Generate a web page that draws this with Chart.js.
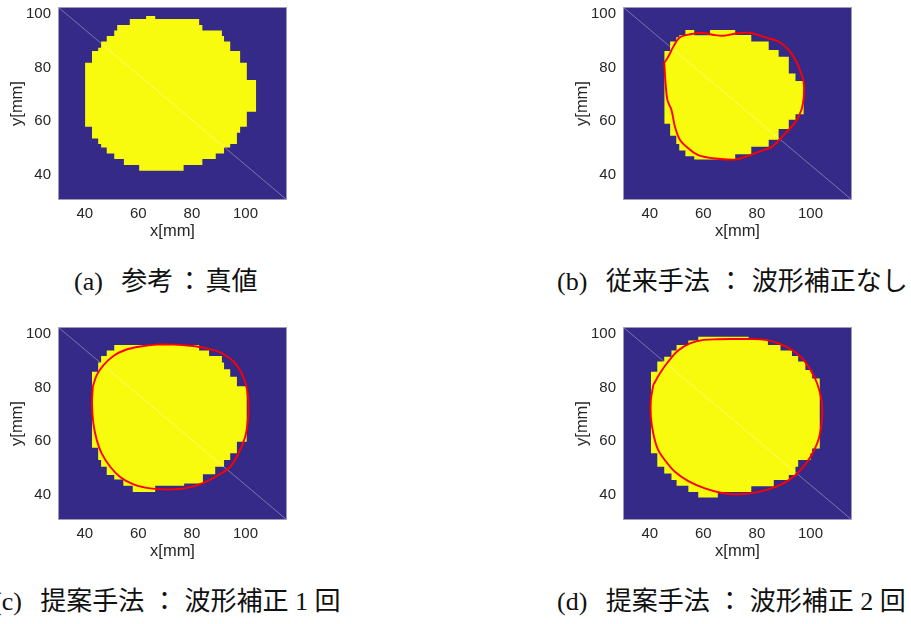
<!DOCTYPE html>
<html>
<head>
<meta charset="utf-8">
<script src="https://cdn.jsdelivr.net/npm/chart.js@4.4.0/dist/chart.umd.min.js"></script>
<style>
  body { margin: 0; background: #fff; width: 911px; height: 624px; position: relative; overflow: hidden; }
  .panel { position: absolute; }
  .cap { position: absolute; font-family: "Liberation Serif", "Noto Sans CJK JP", serif; font-size: 26px; line-height: 30px; color: #111; white-space: nowrap; }
  .tag { margin-right: 12px; }
</style>
</head>
<body>
<canvas id="chartA" class="panel" width="300" height="250" style="left:0px;top:0px"></canvas>
<canvas id="chartB" class="panel" width="300" height="250" style="left:565px;top:0px"></canvas>
<canvas id="chartC" class="panel" width="300" height="250" style="left:0px;top:320px"></canvas>
<canvas id="chartD" class="panel" width="300" height="250" style="left:565px;top:320px"></canvas>

<div class="cap" style="left:74px;top:267px"><span class="tag">(a)</span> 参考<span style="margin:0 3px">：</span>真値</div>
<div class="cap" style="left:557px;top:267px"><span class="tag">(b)</span> 従来手法<span style="margin:0 8px">：</span>波形補正なし</div>
<div class="cap" style="left:-7px;top:587px"><span class="tag">(c)</span> 提案手法<span style="margin:0 7px">：</span>波形補正 1 回</div>
<div class="cap" style="left:557px;top:587px"><span class="tag">(d)</span> 提案手法<span style="margin:0 7px">：</span>波形補正 2 回</div>

<script>
  // axis limits / ticks in mm
  let xLimits = [30, 115.5];
  let yLimits = [30.5, 102.6];
  let xTicks = [40, 60, 80, 100];
  let yTicks = [40, 60, 80, 100];

  // yellow region = columns: edges (x) + lower/upper y of each column
  // (a) true values
  let aEdges = [40.1, 42.7, 45.0, 46.1, 48.2, 51.0, 52.1, 54.6, 56.8, 60.3, 62.9, 66.3, 76.9, 82.7, 83.9, 88.9, 91.2, 92.0, 94.3, 96.8, 98.0, 100.5, 103.0, 104.0];
  let aBottom = [62.5, 57.9, 53.5, 51.4, 50.1, 47.9, 45.8, 45.8, 43.6, 43.6, 41.4, 41.4, 41.4, 43.6, 43.6, 45.8, 47.9, 47.9, 50.1, 51.4, 55.6, 57.9, 63.5];
  let aTop = [77.6, 81.8, 86.2, 87.4, 89.7, 91.8, 93.8, 95.9, 95.9, 98.1, 98.1, 99.25, 98.1, 98.1, 95.9, 93.8, 93.8, 91.8, 89.7, 86.2, 86.2, 81.8, 75.3];

  // (b) conventional, no waveform correction
  let bEdges = [45.4, 47.6, 49.9, 51.0, 53.3, 56.6, 62.5, 71.9, 77.9, 84.4, 88.1, 91.9, 94.4, 96.6, 97.5];
  let bBottom = [65.5, 59.0, 54.5, 51.4, 49.0, 46.8, 45.6, 45.6, 47.6, 50.4, 53.0, 57.0, 60.5, 62.5];
  let bTop = [81.8, 86.2, 89.7, 91.3, 92.0, 94.0, 92.0, 94.0, 92.1, 89.7, 86.5, 84.0, 77.8, 75.0];
  let bContourX = [45.4, 45.9, 46.6, 48.1, 49.4, 51.3, 54.4, 58.1, 64.4, 71.9, 75.6, 80.6, 85.6, 90.6, 94.4, 96.6, 97.5, 97.5, 96.3, 94.4, 91.9, 88.1, 84.4, 80.6, 76.9, 72.5, 68.1, 64.4, 59.4, 55.6, 51.3, 48.8, 46.9];
  let bContourY = [81.8, 74.1, 67.8, 64.1, 57.9, 52.9, 49.8, 47.3, 46.0, 45.6, 46.6, 48.5, 50.4, 55.4, 59.7, 64.1, 69.1, 74.1, 78.4, 82.8, 86.5, 89.7, 90.9, 92.1, 93.0, 92.8, 91.9, 92.1, 93.0, 92.5, 91.3, 87.8, 84.0];

  // (c) proposed, 1 correction
  let cEdges = [42.7, 45.0, 46.1, 48.2, 51.0, 54.4, 57.9, 66.3, 77.1, 82.7, 84.1, 86.4, 88.7, 91.2, 92.0, 94.3, 96.8, 98.0, 100.5];
  let cBottom = [63.1, 57.5, 52.9, 50.4, 47.3, 45.6, 43.3, 41.0, 43.3, 44.1, 44.1, 47.6, 47.6, 50.4, 50.4, 52.9, 55.4, 59.7];
  let cTop = [81.5, 85.9, 89.3, 91.8, 93.8, 95.9, 95.9, 95.9, 95.9, 95.9, 93.8, 93.8, 91.8, 91.8, 89.3, 86.8, 84.0, 80.5];
  let cContourX = [43.0, 42.7, 43.2, 44.5, 46.3, 49.5, 53.2, 58.2, 64.4, 71.2, 78.1, 84.3, 89.9, 94.3, 97.4, 99.9, 100.9, 101.1, 100.5, 98.6, 95.5, 91.2, 85.6, 79.3, 73.1, 66.9, 60.7, 55.1, 50.7, 47.0, 44.5];
  let cContourY = [80.3, 74.1, 66.6, 60.3, 55.4, 50.4, 46.6, 43.8, 42.3, 41.9, 42.5, 44.4, 47.3, 50.4, 55.4, 61.6, 67.8, 72.8, 79.7, 85.3, 89.7, 92.8, 94.6, 95.6, 96.0, 96.0, 95.3, 94.0, 91.8, 88.4, 84.7];

  // (d) proposed, 2 corrections
  let dEdges = [40.4, 42.8, 45.4, 48.1, 50.0, 54.4, 58.1, 65.4, 76.9, 77.9, 84.1, 86.3, 88.8, 91.9, 93.1, 94.4, 95.4, 98.1, 100.0, 100.6, 102.5, 103.5];
  let dBottom = [62.2, 55.4, 50.4, 47.9, 45.4, 43.3, 41.0, 38.9, 41.0, 41.0, 43.1, 43.1, 45.4, 45.4, 47.3, 47.3, 50.4, 52.9, 52.9, 55.4, 57.2];
  let dTop = [81.5, 85.9, 89.7, 91.5, 93.8, 95.9, 97.6, 99.0, 99.0, 97.8, 97.8, 95.9, 95.9, 93.8, 93.8, 91.8, 91.8, 89.7, 86.5, 86.5, 83.4];
  let dContourX = [41.3, 40.4, 40.4, 41.3, 42.9, 45.6, 49.4, 54.4, 60.6, 66.9, 73.1, 80.6, 86.9, 91.9, 96.3, 100.0, 102.5, 103.8, 104.4, 104.1, 102.5, 100.0, 96.9, 93.1, 88.1, 83.1, 76.9, 70.6, 65.6, 60.0, 55.0, 50.6, 46.9, 43.8];
  let dContourY = [80.9, 75.3, 69.1, 62.8, 57.2, 52.9, 48.5, 45.0, 42.3, 40.6, 40.1, 41.0, 42.9, 45.4, 49.1, 54.1, 59.1, 64.1, 70.3, 75.3, 81.5, 86.5, 90.9, 94.0, 96.5, 97.8, 98.1, 98.1, 98.0, 97.8, 96.5, 93.8, 89.7, 85.3];

  let tickFont = {family: "Liberation Sans", size: 15};
  let labelFont = {family: "Liberation Sans", size: 16.5};

  // dark blue image background + light axes box
  const frame = {
    id: "frame",
    beforeDraw(chart) {
      let a = chart.chartArea;
      chart.ctx.save();
      chart.ctx.fillStyle = "#352a87";
      chart.ctx.fillRect(a.left, a.top, a.right - a.left, a.bottom - a.top);
      chart.ctx.restore();
    },
    afterDraw(chart) {
      let a = chart.chartArea;
      chart.ctx.save();
      chart.ctx.strokeStyle = "rgba(175,175,195,0.85)";
      chart.ctx.lineWidth = 1;
      chart.ctx.strokeRect(a.left + 0.5, a.top + 0.5, a.right - a.left - 1, a.bottom - a.top - 1);
      chart.ctx.restore();
    }
  };

  function makePanel(id, edges, bottom, top, cx, cy) {
    let ctx = document.getElementById(id);
    let n = bottom.length;
    let lower = edges.map((x, i) => ({x: x, y: bottom[Math.min(i, n - 1)]}));
    let upper = edges.map((x, i) => ({x: x, y: top[Math.min(i, n - 1)]}));

    let datasets = [];
    if (cx) {
      let pts = cx.map((x, i) => ({x: x, y: cy[i]}));
      pts.push(pts[0]);
      datasets.push({data: pts, showLine: true, borderColor: "#ff0000", borderWidth: 1.9, tension: 0.35, pointRadius: 0, fill: false});
    }
    // diagonal artefact across the image
    datasets.push({
      data: [{x: xLimits[0], y: yLimits[1]}, {x: xLimits[1], y: yLimits[0]}],
      showLine: true, borderColor: "rgba(255,255,255,0.35)", borderWidth: 1, pointRadius: 0, fill: false
    });
    datasets.push({data: upper, showLine: true, stepped: "after", borderWidth: 0, borderColor: "rgba(0,0,0,0)", backgroundColor: "#f9fb0e", pointRadius: 0, fill: "+1"});
    datasets.push({data: lower, showLine: true, stepped: "after", borderWidth: 0, borderColor: "rgba(0,0,0,0)", pointRadius: 0, fill: false});

    return new Chart(ctx, {
      type: "scatter",
      data: {datasets: datasets},
      options: {
        responsive: false,
        animation: false,
        events: [],
        layout: {padding: {left: 0, top: 7, right: 13, bottom: 8}},
        plugins: {legend: {display: false}, tooltip: {enabled: false}},
        scales: {
          x: {
            type: "linear", min: xLimits[0], max: xLimits[1],
            grid: {display: false, drawTicks: false},
            border: {display: false},
            afterBuildTicks: s => { s.ticks = xTicks.map(v => ({value: v})); },
            afterFit: s => { s.height = 42; s.paddingLeft = 0; s.paddingRight = 0; },
            ticks: {padding: 5, color: "#262626", font: tickFont},
            title: {display: true, text: "x[mm]", color: "#262626", font: labelFont, padding: {top: 0, bottom: 1}}
          },
          y: {
            type: "linear", min: yLimits[0], max: yLimits[1],
            grid: {display: false, drawTicks: false},
            border: {display: false},
            afterBuildTicks: s => { s.ticks = yTicks.map(v => ({value: v})); },
            afterFit: s => { s.width = 58; s.paddingTop = 0; s.paddingBottom = 0; },
            ticks: {padding: 7, color: "#262626", font: tickFont},
            title: {display: true, text: "y[mm]", color: "#262626", font: labelFont, padding: {top: 8, bottom: 0}}
          }
        }
      },
      plugins: [frame]
    });
  }

  makePanel("chartA", aEdges, aBottom, aTop, null, null);
  makePanel("chartB", bEdges, bBottom, bTop, bContourX, bContourY);
  makePanel("chartC", cEdges, cBottom, cTop, cContourX, cContourY);
  makePanel("chartD", dEdges, dBottom, dTop, dContourX, dContourY);
</script>
</body>
</html>
